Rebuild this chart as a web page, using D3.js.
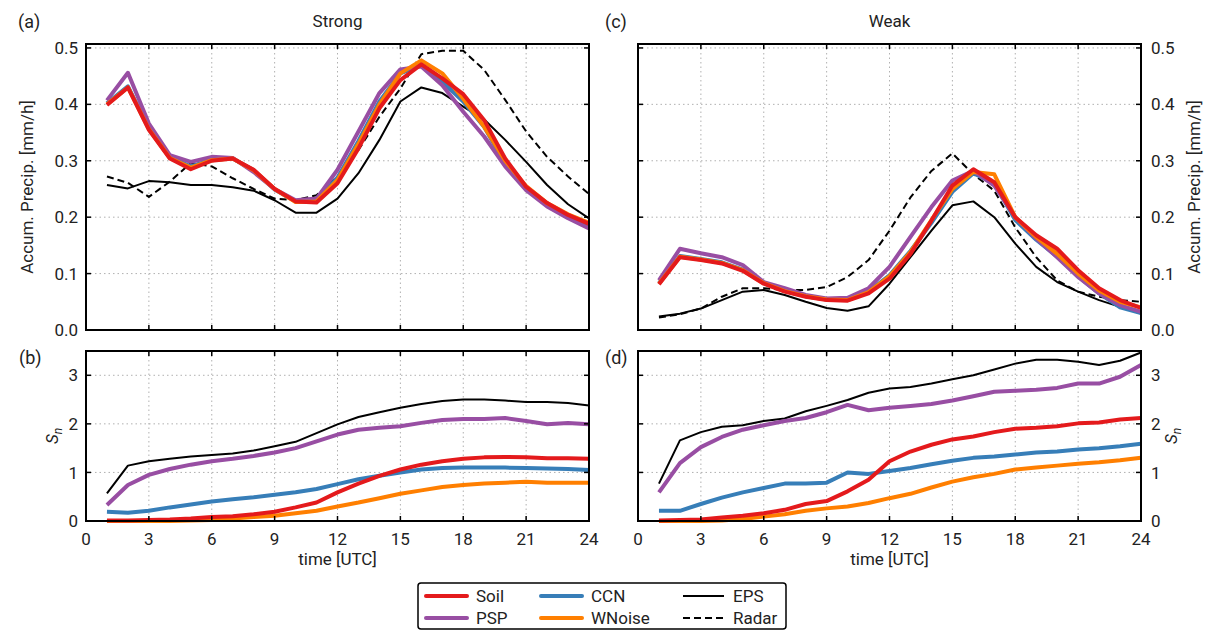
<!DOCTYPE html>
<html lang="en">
<head>
<meta charset="UTF-8">
<title>Accum. Precip. and S_n</title>
<script src="https://d3js.org/d3.v7.min.js"></script>
<style>
  body { margin: 0; background: #fff; font-family: Roboto, "Liberation Sans", Arial, sans-serif; }
  svg { display: block; }
  text { fill: #222; }
  .tick-label { font-size: 17px; }
  .grid line { stroke: #b0b0b0; stroke-width: 1; stroke-dasharray: 1.5,3; }
</style>
</head>
<body>
<script>
// hours 1..24 (UTC)
const hours = d3.range(1, 25);

// (a) Strong - accumulated precipitation [mm/h]
const strongSoil   = [0.399,0.43,0.355,0.304,0.285,0.30,0.304,0.284,0.25,0.228,0.226,0.26,0.322,0.393,0.443,0.471,0.446,0.418,0.372,0.304,0.254,0.225,0.204,0.188];
const strongPSP    = [0.407,0.456,0.366,0.31,0.298,0.307,0.305,0.28,0.25,0.23,0.233,0.284,0.352,0.42,0.462,0.467,0.434,0.387,0.343,0.29,0.248,0.219,0.198,0.18];
const strongCCN    = [0.402,0.432,0.358,0.306,0.29,0.302,0.304,0.283,0.249,0.228,0.229,0.27,0.335,0.405,0.455,0.47,0.44,0.405,0.36,0.295,0.25,0.222,0.2,0.185];
const strongWNoise = [0.4,0.43,0.356,0.305,0.288,0.301,0.304,0.283,0.25,0.227,0.228,0.266,0.33,0.4,0.455,0.478,0.455,0.41,0.36,0.30,0.255,0.225,0.205,0.19];
const strongEPS    = [0.257,0.251,0.264,0.262,0.257,0.257,0.253,0.247,0.23,0.208,0.208,0.233,0.278,0.337,0.405,0.43,0.42,0.396,0.373,0.337,0.298,0.257,0.223,0.198];
const strongRadar  = [0.272,0.261,0.236,0.263,0.296,0.29,0.269,0.25,0.233,0.23,0.239,0.272,0.319,0.378,0.428,0.489,0.495,0.495,0.461,0.408,0.352,0.307,0.272,0.241];

// (c) Weak - accumulated precipitation [mm/h]
const weakSoil   = [0.081,0.129,0.124,0.118,0.105,0.082,0.068,0.059,0.053,0.052,0.065,0.091,0.135,0.194,0.256,0.285,0.262,0.2,0.168,0.144,0.106,0.074,0.053,0.039];
const weakPSP    = [0.088,0.144,0.136,0.129,0.115,0.085,0.074,0.062,0.056,0.057,0.074,0.112,0.165,0.218,0.265,0.282,0.256,0.2,0.162,0.129,0.094,0.065,0.044,0.032];
const weakCCN    = [0.083,0.131,0.126,0.12,0.107,0.083,0.069,0.06,0.054,0.054,0.068,0.097,0.14,0.19,0.245,0.278,0.26,0.195,0.16,0.13,0.095,0.065,0.04,0.03];
const weakWNoise = [0.082,0.13,0.125,0.119,0.106,0.083,0.069,0.06,0.054,0.053,0.067,0.095,0.138,0.195,0.25,0.28,0.276,0.2,0.165,0.135,0.10,0.07,0.05,0.04];
const weakEPS    = [0.024,0.029,0.038,0.053,0.068,0.071,0.062,0.05,0.039,0.034,0.042,0.082,0.129,0.176,0.221,0.228,0.2,0.153,0.112,0.085,0.068,0.053,0.041,0.029];
const weakRadar  = [0.022,0.028,0.038,0.059,0.074,0.074,0.071,0.071,0.076,0.094,0.124,0.176,0.235,0.282,0.313,0.276,0.247,0.182,0.129,0.088,0.068,0.059,0.053,0.05];

// (b) Strong - S_n
const strongSnSoil   = [0.01,0.01,0.02,0.03,0.05,0.08,0.10,0.14,0.19,0.28,0.38,0.59,0.77,0.93,1.06,1.16,1.23,1.28,1.31,1.32,1.31,1.29,1.29,1.28];
const strongSnPSP    = [0.33,0.74,0.95,1.07,1.16,1.23,1.28,1.34,1.41,1.5,1.64,1.78,1.88,1.92,1.95,2.02,2.08,2.1,2.1,2.12,2.06,1.99,2.02,1.99];
const strongSnCCN    = [0.19,0.17,0.21,0.28,0.34,0.40,0.45,0.49,0.54,0.59,0.66,0.76,0.86,0.93,1.0,1.06,1.09,1.1,1.1,1.1,1.09,1.08,1.07,1.05];
const strongSnWNoise = [0,0,0,0,0.01,0.02,0.05,0.08,0.11,0.16,0.21,0.30,0.38,0.47,0.56,0.63,0.70,0.74,0.77,0.79,0.81,0.79,0.79,0.79];
const strongSnEPS    = [0.57,1.14,1.23,1.28,1.33,1.36,1.39,1.45,1.54,1.63,1.81,1.99,2.14,2.24,2.33,2.41,2.47,2.5,2.5,2.48,2.45,2.45,2.43,2.38];

// (d) Weak - S_n
const weakSnSoil   = [0.01,0.02,0.03,0.07,0.11,0.16,0.23,0.35,0.41,0.61,0.85,1.23,1.43,1.57,1.68,1.74,1.83,1.9,1.92,1.95,2.01,2.03,2.09,2.12];
const weakSnPSP    = [0.59,1.19,1.52,1.73,1.88,1.97,2.06,2.12,2.24,2.39,2.28,2.33,2.37,2.41,2.48,2.57,2.66,2.68,2.7,2.74,2.83,2.83,2.97,3.21];
const weakSnCCN    = [0.21,0.21,0.35,0.48,0.59,0.68,0.77,0.77,0.79,1.0,0.97,1.03,1.09,1.17,1.24,1.3,1.33,1.37,1.41,1.43,1.47,1.5,1.54,1.59];
const weakSnWNoise = [0,0,0,0.01,0.04,0.09,0.14,0.21,0.26,0.30,0.37,0.47,0.56,0.69,0.81,0.90,0.97,1.06,1.1,1.14,1.18,1.21,1.25,1.3];
const weakSnEPS    = [0.77,1.66,1.83,1.94,1.97,2.06,2.11,2.26,2.37,2.49,2.64,2.73,2.76,2.83,2.92,3.0,3.12,3.24,3.32,3.32,3.28,3.21,3.3,3.47];

const xTicks = [0, 3, 6, 9, 12, 15, 18, 21, 24];
const precipTicks = [0, 0.1, 0.2, 0.3, 0.4, 0.5];
const snTicks = [0, 1, 2, 3];

const colors = { Soil: "#e41a1c", PSP: "#984ea3", CCN: "#377eb8", WNoise: "#ff7f00", EPS: "#000", Radar: "#000" };

const svg = d3.select("body").append("svg").attr("width", 1206).attr("height", 631);

function drawPanel(p) {
  const x = d3.scaleLinear().domain([0, 24]).range([p.x0, p.x1]);
  const y = d3.scaleLinear().domain(p.ydom).range([p.y1, p.y0]);
  const g = svg.append("g");

  // dotted grid
  const grid = g.append("g").attr("class", "grid");
  grid.selectAll(".vx").data(xTicks.slice(1, -1)).enter().append("line")
    .attr("x1", d => x(d)).attr("x2", d => x(d)).attr("y1", p.y0).attr("y2", p.y1);
  grid.selectAll(".hy").data(p.yticks.filter(t => t > 0)).enter().append("line")
    .attr("x1", p.x0).attr("x2", p.x1).attr("y1", d => y(d)).attr("y2", d => y(d));

  // series
  const line = d3.line().x((d, i) => x(hours[i])).y(d => y(d));
  p.series.forEach(s => {
    g.append("path").datum(s.values)
      .attr("fill", "none")
      .attr("stroke", colors[s.name])
      .attr("stroke-width", s.name === "EPS" || s.name === "Radar" ? 2 : 4)
      .attr("stroke-dasharray", s.name === "Radar" ? "7,4" : null)
      .attr("stroke-linejoin", "round")
      .attr("d", line);
  });

  // ticks on all four sides, inward
  const tl = 5;
  const axisG = g.append("g").attr("stroke", "#000").attr("stroke-width", 1.5);
  xTicks.forEach(t => {
    axisG.append("line").attr("x1", x(t)).attr("x2", x(t)).attr("y1", p.y1).attr("y2", p.y1 - tl);
    axisG.append("line").attr("x1", x(t)).attr("x2", x(t)).attr("y1", p.y0).attr("y2", p.y0 + tl);
  });
  p.yticks.forEach(t => {
    axisG.append("line").attr("x1", p.x0).attr("x2", p.x0 + tl).attr("y1", y(t)).attr("y2", y(t));
    axisG.append("line").attr("x1", p.x1).attr("x2", p.x1 - tl).attr("y1", y(t)).attr("y2", y(t));
  });
  g.append("rect").attr("x", p.x0).attr("y", p.y0)
    .attr("width", p.x1 - p.x0).attr("height", p.y1 - p.y0)
    .attr("fill", "none").attr("stroke", "#000").attr("stroke-width", 2);

  // y tick labels
  const ylab = g.append("g");
  p.yticks.forEach(t => {
    ylab.append("text").attr("class", "tick-label")
      .attr("x", p.right ? p.x1 + 10 : p.x0 - 8)
      .attr("y", y(t)).attr("dy", "0.36em")
      .attr("text-anchor", p.right ? "start" : "end")
      .text(p.yfmt(t));
  });

  // x tick labels
  if (p.xlabels) {
    xTicks.forEach(t => {
      g.append("text").attr("class", "tick-label")
        .attr("x", x(t)).attr("y", p.y1 + 24)
        .attr("text-anchor", "middle").text(t);
    });
    g.append("text").attr("class", "tick-label")
      .attr("x", (p.x0 + p.x1) / 2).attr("y", p.y1 + 44)
      .attr("text-anchor", "middle").text("time [UTC]");
  }

  // panel letter
  g.append("text").attr("x", p.letterX).attr("y", p.letterY)
    .attr("font-size", 18).text(p.letter);

  if (p.title) {
    g.append("text").attr("x", (p.x0 + p.x1) / 2).attr("y", 27)
      .attr("text-anchor", "middle").attr("font-size", 17).text(p.title);
  }

  // axis label
  const ly = (p.y0 + p.y1) / 2;
  const lab = g.append("text")
    .attr("transform", `translate(${p.labelX},${ly}) rotate(-90)`)
    .attr("text-anchor", "middle").attr("font-size", 17);
  if (p.ylabel === "Sn") {
    lab.append("tspan").attr("font-style", "italic").text("S");
    lab.append("tspan").attr("font-style", "italic").attr("font-size", 12).attr("dy", 4).text("n");
  } else {
    lab.text(p.ylabel);
  }
}

const fmt1 = d3.format(".1f");
const fmt0 = d3.format("d");

drawPanel({ x0: 86, x1: 589, y0: 44, y1: 330, ydom: [0, 0.507], yticks: precipTicks, yfmt: fmt1,
  right: false, xlabels: false, letter: "(a)", letterX: 18, letterY: 28, title: "Strong",
  ylabel: "Accum. Precip. [mm/h]", labelX: 33,
  series: [
    { name: "Radar", values: strongRadar }, { name: "EPS", values: strongEPS },
    { name: "CCN", values: strongCCN }, { name: "PSP", values: strongPSP },
    { name: "WNoise", values: strongWNoise }, { name: "Soil", values: strongSoil }
  ] });

drawPanel({ x0: 638, x1: 1141, y0: 44, y1: 330, ydom: [0, 0.507], yticks: precipTicks, yfmt: fmt1,
  right: true, xlabels: false, letter: "(c)", letterX: 605, letterY: 28, title: "Weak",
  ylabel: "Accum. Precip. [mm/h]", labelX: 1200,
  series: [
    { name: "Radar", values: weakRadar }, { name: "EPS", values: weakEPS },
    { name: "CCN", values: weakCCN }, { name: "PSP", values: weakPSP },
    { name: "WNoise", values: weakWNoise }, { name: "Soil", values: weakSoil }
  ] });

drawPanel({ x0: 86, x1: 589, y0: 351, y1: 521, ydom: [0, 3.5], yticks: snTicks, yfmt: fmt0,
  right: false, xlabels: true, letter: "(b)", letterX: 19, letterY: 364, title: null,
  ylabel: "Sn", labelX: 58,
  series: [
    { name: "EPS", values: strongSnEPS }, { name: "PSP", values: strongSnPSP },
    { name: "CCN", values: strongSnCCN }, { name: "WNoise", values: strongSnWNoise },
    { name: "Soil", values: strongSnSoil }
  ] });

drawPanel({ x0: 638, x1: 1141, y0: 351, y1: 521, ydom: [0, 3.5], yticks: snTicks, yfmt: fmt0,
  right: true, xlabels: true, letter: "(d)", letterX: 605, letterY: 364, title: null,
  ylabel: "Sn", labelX: 1177,
  series: [
    { name: "EPS", values: weakSnEPS }, { name: "PSP", values: weakSnPSP },
    { name: "CCN", values: weakSnCCN }, { name: "WNoise", values: weakSnWNoise },
    { name: "Soil", values: weakSnSoil }
  ] });

// legend
const legendItems = [
  { name: "Soil", col: 0, row: 0 }, { name: "PSP", col: 0, row: 1 },
  { name: "CCN", col: 1, row: 0 }, { name: "WNoise", col: 1, row: 1 },
  { name: "EPS", col: 2, row: 0 }, { name: "Radar", col: 2, row: 1 }
];
const lg = svg.append("g");
lg.append("rect").attr("x", 418).attr("y", 583).attr("width", 368).attr("height", 46)
  .attr("rx", 3).attr("fill", "#fff").attr("stroke", "#000").attr("stroke-width", 1.5);
const colX = [426, 541, 683];
legendItems.forEach(it => {
  const lx = colX[it.col], ly = 596 + it.row * 22;
  const thin = it.name === "EPS" || it.name === "Radar";
  lg.append("line").attr("x1", lx).attr("x2", lx + 41).attr("y1", ly).attr("y2", ly)
    .attr("stroke", colors[it.name]).attr("stroke-width", thin ? 2 : 4)
    .attr("stroke-linecap", thin ? "butt" : "round")
    .attr("stroke-dasharray", it.name === "Radar" ? "7,4" : null);
  lg.append("text").attr("x", lx + 50).attr("y", ly).attr("dy", "0.36em")
    .attr("font-size", 17).text(it.name);
});
</script>
</body>
</html>
